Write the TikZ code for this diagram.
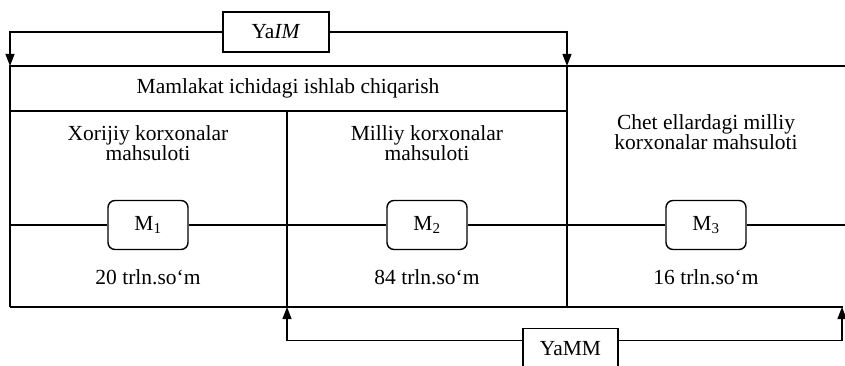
\documentclass[tikz,border=0pt]{standalone}
\usepackage{fontspec}
\setmainfont{Liberation Serif}
\usetikzlibrary{arrows.meta,positioning}
\tikzset{
  frm/.style={line width=1.2pt, line join=miter},
  txt/.style={align=center, inner sep=0pt, font=\fontsize{21.5}{20.5}\selectfont},
  mbox/.style={txt, draw, rounded corners=7pt, line width=1.4pt, minimum width=80pt, minimum height=49pt},
  flowbox/.style={txt, draw, line width=1.3pt, minimum height=40pt},
}

\begin{document}
\begin{tikzpicture}[x=1pt, y=-1pt, >={Triangle[length=12pt,width=9pt]}]
\useasboundingbox (0,0) rectangle (845,366);
% frame of the three columns
\draw[frm] (10,307) -- (10,66) -- (845,66);
\draw[frm] (10,111) -- (567,111);
\draw[frm] (567,66) -- (567,307);
\draw[frm] (287,111) -- (287,307);
\draw[frm] (10,307) -- (843,307);
\node[txt] (head) at (288,88) {Mamlakat ichidagi ishlab chiqarish};
\foreach \i/\xc/\yc/\ttl/\val in {1/148/143/{Xorijiy korxonalar\\mahsuloti}/20,
    2/427/143/{Milliy korxonalar\\mahsuloti}/84,
    3/706/132/{Chet ellardagi milliy\\korxonalar mahsuloti}/16}{
  \node[txt] (ttl\i) at (\xc,\yc) {\ttl};
  \node[mbox] (m\i) at (\xc,225) {M\textsubscript{\i}};
  \node[txt] (val\i) at (\xc,277) {\val\ trln.so‘m};
}
\coordinate (mlft) at (10,225);
\coordinate (mrgt) at (845,225);
\draw[frm] (mlft) -- (m1) -- (m2) -- (m3) -- (mrgt);
% YaIM on top
\node[flowbox, minimum width=106pt] (yaim) at (276,32) {Ya\textit{IM}};
\coordinate (tl) at (10,66);
\coordinate (tr) at (567,66);
\draw[frm, ->] (yaim.west) -| (tl);
\draw[frm, ->] (yaim.east) -| (tr);
% YaMM below
\node[flowbox, minimum width=95pt, anchor=north] (yamm) at (570.5,328) {YaMM};
\coordinate (bl) at (287,307);
\coordinate (br) at (842,307);
\draw[frm, ->] ([yshift=8pt]yamm.west) -| (bl);
\draw[frm, ->] ([yshift=8pt]yamm.east) -| (br);
\end{tikzpicture}
\end{document}
